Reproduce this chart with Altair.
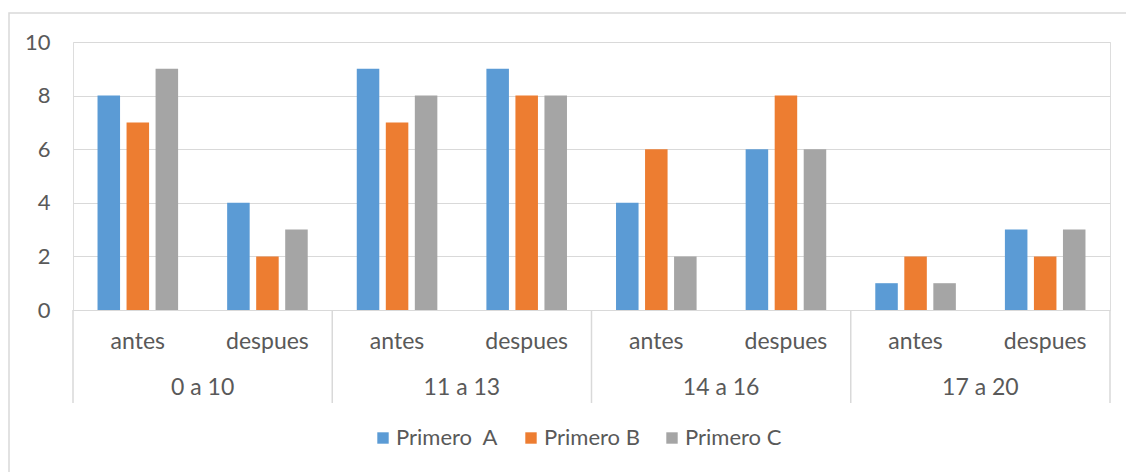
import altair as alt
import pandas as pd

# Age bands and the two moments measured in each
groups = ["0 a 10", "11 a 13", "14 a 16", "17 a 20"]
moments = ["antes", "despues"]

# Series (one value per group/moment pair, in order)
series_names = ["Primero\u00a0 A", "Primero B", "Primero C"]
primero_a = [8, 4, 9, 9, 4, 6, 1, 3]
primero_b = [7, 2, 7, 8, 6, 8, 2, 2]
primero_c = [9, 3, 8, 8, 2, 6, 1, 3]
colors = ["#5B9BD5", "#ED7D31", "#A5A5A5"]

y_ticks = [0, 2, 4, 6, 8, 10]

FONT = "Lato"
TEXT = "#595959"
LINE = "#D9D9D9"
W, H = 1037, 268
PAD = {"left": 73, "top": 42, "right": 1126 - 73 - W, "bottom": 472 - 42 - H}

keys = [f"{g}|{m}" for g in groups for m in moments]

rows = []
for name, vals in zip(series_names, [primero_a, primero_b, primero_c]):
    for k, v in zip(keys, vals):
        rows.append({"key": k, "serie": name, "valor": v})
bars_df = pd.DataFrame(rows)

sub_df = pd.DataFrame({"key": keys, "label": [k.split("|")[1] for k in keys]})
grp_df = pd.DataFrame({"key": [f"{g}|antes" for g in groups], "label": groups})
last_df = pd.DataFrame({"key": [keys[-1]]})

x_scale = alt.Scale(domain=keys, paddingInner=0, paddingOuter=0)
y_scale = alt.Scale(domain=[0, 10], nice=False)

bars = alt.Chart(bars_df).mark_bar().encode(
    x=alt.X("key:N", scale=x_scale,
            axis=alt.Axis(labels=False, ticks=False, title=None, domain=True,
                          domainColor=LINE, domainWidth=1.5, grid=False)),
    xOffset=alt.XOffset("serie:N", sort=series_names,
                        scale=alt.Scale(paddingInner=0.224, paddingOuter=0.845)),
    y=alt.Y("valor:Q", scale=y_scale,
            axis=alt.Axis(values=y_ticks, title=None, domain=False, ticks=False,
                          grid=True, gridColor=LINE, gridWidth=1,
                          labelPadding=23, labelFontSize=22, labelColor=TEXT,
                          labelFont=FONT)),
    color=alt.Color("serie:N", sort=series_names,
                    scale=alt.Scale(domain=series_names, range=colors),
                    legend=alt.Legend(orient="none", direction="horizontal",
                                      legendX=299, legendY=385, title=None,
                                      symbolType="square", symbolSize=130,
                                      symbolStrokeWidth=0, labelOffset=2,
                                      columnPadding=21, labelFontSize=22,
                                      labelColor=TEXT, labelFont=FONT)),
)

sub_labels = alt.Chart(sub_df).mark_text(
    font=FONT, fontSize=23, color=TEXT, baseline="alphabetic", align="center"
).encode(
    x=alt.X("key:N", scale=x_scale, axis=None),
    y=alt.value(307),
    text="label:N",
)

grp_labels = alt.Chart(grp_df).mark_text(
    font=FONT, fontSize=23, color=TEXT, baseline="alphabetic", align="center"
).encode(
    x=alt.X("key:N", scale=x_scale, bandPosition=1, axis=None),
    y=alt.value(353),
    text="label:N",
)

dividers = alt.Chart(grp_df).mark_rule(color=LINE, strokeWidth=1.5).encode(
    x=alt.X("key:N", scale=x_scale, bandPosition=0, axis=None),
    y=alt.value(H),
    y2=alt.value(361),
)

last_divider = alt.Chart(last_df).mark_rule(color=LINE, strokeWidth=1.5).encode(
    x=alt.X("key:N", scale=x_scale, bandPosition=1, axis=None),
    y=alt.value(H),
    y2=alt.value(361),
)

frame = alt.Chart(pd.DataFrame({"a": [0]})).mark_rect(
    fill=None, stroke=LINE, strokeWidth=1.5
).encode(
    x=alt.value(-64),
    x2=alt.value(W + 20),
    y=alt.value(-29),
    y2=alt.value(H + 200),
)

chart = alt.layer(frame, bars, sub_labels, grp_labels, dividers, last_divider).properties(
    width=W,
    height=H,
    padding=PAD,
    autosize=alt.AutoSizeParams(type="none"),
).configure_view(stroke=None).configure(background="white")

chart.save("out.html", embed_options={"renderer": "svg", "actions": False})
